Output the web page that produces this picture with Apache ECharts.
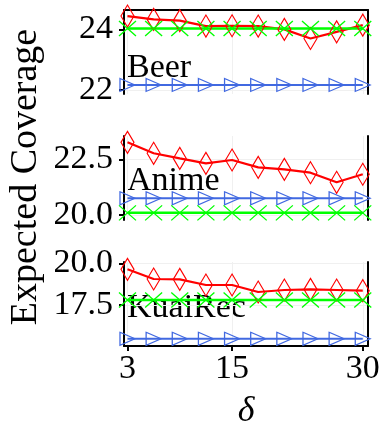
<!DOCTYPE html>
<html>
<head>
<meta charset="utf-8">
<script src="https://cdn.jsdelivr.net/npm/echarts@6/dist/echarts.min.js"></script>
<style>
  html, body { margin: 0; padding: 0; background: #fff; }
  #chart { width: 391px; height: 440px; }
</style>
</head>
<body>
<div id="chart"></div>
<script>
// x values (delta)
var deltas = [3, 6, 9, 12, 15, 18, 21, 24, 27, 30];
var xTicks = [3, 15, 30];

// Beer
var beerRed = [24.44, 24.33, 24.29, 24.11, 24.12, 24.11, 24.00, 23.70, 23.92, 24.14];
var beerGreen = [24.03, 24.03, 24.03, 24.03, 24.03, 24.03, 24.03, 24.03, 24.03, 24.03];
var beerBlue = [22.17, 22.17, 22.17, 22.17, 22.17, 22.17, 22.17, 22.17, 22.17, 22.17];
var beerTicks = [22, 24];

// Anime
var animeRed = [23.26, 22.77, 22.54, 22.32, 22.47, 22.14, 22.05, 21.90, 21.47, 21.83];
var animeGreen = [20.10, 20.10, 20.10, 20.10, 20.10, 20.10, 20.10, 20.10, 20.10, 20.10];
var animeBlue = [20.75, 20.75, 20.75, 20.75, 20.75, 20.75, 20.75, 20.75, 20.75, 20.75];
var animeTicks = [20.0, 22.5];

// KuaiRec
var kuaiRed = [19.64, 19.06, 19.04, 18.70, 18.70, 18.28, 18.40, 18.44, 18.40, 18.36];
var kuaiGreen = [17.80, 17.80, 17.80, 17.80, 17.80, 17.80, 17.80, 17.80, 17.80, 17.80];
var kuaiBlue = [15.47, 15.47, 15.47, 15.47, 15.47, 15.47, 15.47, 15.47, 15.47, 15.47];
var kuaiTicks = [17.5, 20.0];

var font = '"Liberation Serif", "DejaVu Serif", serif';

function pairs(ys) {
    return deltas.map(function (x, i) { return [x, ys[i]]; });
}

// 三个子图的位置
var panels = [
    {name: 'Beer', top: 10, min: 21.87, max: 24.64, ticks: beerTicks, digits: 0,
        red: beerRed, green: beerGreen, blue: beerBlue, labelY: 68},
    {name: 'Anime', top: 136, min: 19.78, max: 23.545, ticks: animeTicks, digits: 1,
        red: animeRed, green: animeGreen, blue: animeBlue, labelY: 181},
    {name: 'KuaiRec', top: 262, min: 15.04, max: 20.08, ticks: kuaiTicks, digits: 1,
        red: kuaiRed, green: kuaiGreen, blue: kuaiBlue, labelY: 308}
];

var grids = [], xAxes = [], yAxes = [], series = [], graphics = [];

panels.forEach(function (p, i) {
    var last = i === panels.length - 1;
    grids.push({left: 124, width: 244, top: p.top, height: 84});

    xAxes.push({
        type: 'value', gridIndex: i, min: 2.6, max: 30.6,
        position: i === 0 ? 'top' : 'bottom',
        axisLine: {show: i === 0 || last, onZero: false, lineStyle: {color: '#000', width: 2}},
        axisTick: {show: last, customValues: xTicks, inside: false, length: 5,
            lineStyle: {color: '#000', width: 2}},
        axisLabel: {show: last, customValues: xTicks, margin: 6,
            fontFamily: font, fontSize: 34, color: '#000'},
        splitLine: {show: true, lineStyle: {color: '#f0f0f0', width: 1}}
    });

    yAxes.push({
        type: 'value', gridIndex: i, min: p.min, max: p.max, position: 'left',
        axisLine: {show: true, onZero: false, lineStyle: {color: '#000', width: 2}},
        axisTick: {show: true, customValues: p.ticks, length: 5,
            lineStyle: {color: '#000', width: 2}},
        axisLabel: {customValues: p.ticks, margin: 11, fontFamily: font, fontSize: 34, color: '#000',
            formatter: (function (d) { return function (v) { return v.toFixed(d); }; })(p.digits)},
        splitLine: {show: true, lineStyle: {color: '#f0f0f0', width: 1}}
    });
    // 右侧边框
    yAxes.push({
        type: 'value', gridIndex: i, min: p.min, max: p.max, position: 'right',
        axisLine: {show: true, onZero: false, lineStyle: {color: '#000', width: 2}},
        axisTick: {show: false}, axisLabel: {show: false}, splitLine: {show: false}
    });

    var yIdx = i * 2;
    series.push({
        type: 'line', xAxisIndex: i, yAxisIndex: yIdx, data: pairs(p.blue),
        symbol: 'path://M0,0L10,5L0,10Z', symbolSize: [15, 13], showAllSymbol: true,
        lineStyle: {color: '#4169e1', width: 2},
        itemStyle: {color: 'rgba(0,0,0,0)', borderColor: '#4169e1', borderWidth: 1.2}
    });
    series.push({
        type: 'line', xAxisIndex: i, yAxisIndex: yIdx, data: pairs(p.red),
        symbol: 'diamond', symbolSize: [13, 22], showAllSymbol: true,
        lineStyle: {color: '#ff0000', width: 2.2},
        itemStyle: {color: 'rgba(0,0,0,0)', borderColor: '#ff0000', borderWidth: 1.2}
    });
    series.push({
        type: 'line', xAxisIndex: i, yAxisIndex: yIdx, data: pairs(p.green),
        symbol: 'path://M0,0L10,10M10,0L0,10', symbolSize: [17, 15], showAllSymbol: true,
        lineStyle: {color: '#00ff00', width: 2.5},
        itemStyle: {color: 'rgba(0,0,0,0)', borderColor: '#00ff00', borderWidth: 1.2}
    });

    graphics.push({
        type: 'text', left: 127, top: p.labelY - 17,
        style: {text: p.name, font: '34px ' + font, fill: '#000'}
    });
});

// 坐标轴名称
graphics.push({
    type: 'text', x: 26, y: 177, rotation: Math.PI / 2,
    style: {text: 'Expected Coverage', font: '38px ' + font, fill: '#000',
        align: 'center', verticalAlign: 'middle'}
});
graphics.push({
    type: 'text', x: 246, y: 412,
    style: {text: 'δ', font: 'italic 36px ' + font, fill: '#000',
        align: 'center', verticalAlign: 'middle'}
});

var myChart = echarts.init(document.getElementById('chart'));
myChart.setOption({
    animation: false,
    backgroundColor: '#fff',
    grid: grids,
    xAxis: xAxes,
    yAxis: yAxes,
    series: series,
    graphic: graphics
});
</script>
</body>
</html>
